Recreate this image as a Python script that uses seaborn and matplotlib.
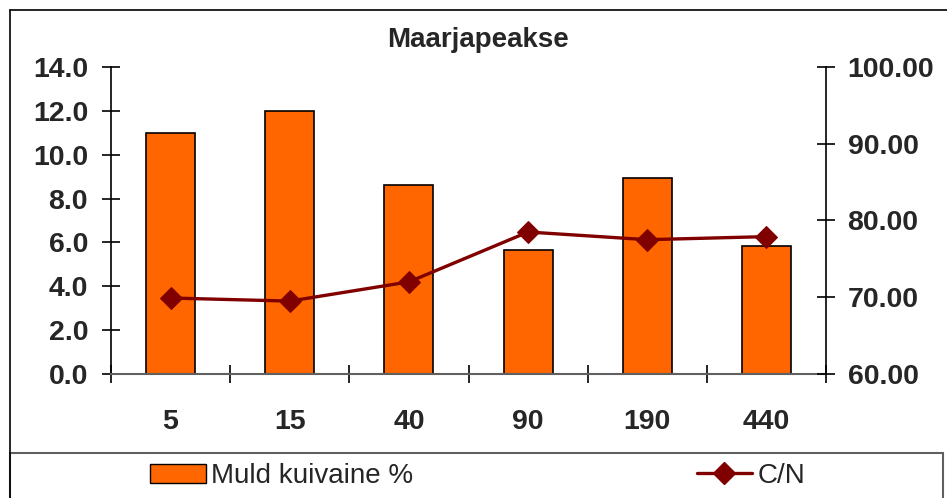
import numpy as np
import pandas as pd
import seaborn as sns
import matplotlib.pyplot as plt
from matplotlib.lines import Line2D
from matplotlib.patches import Patch, Rectangle

# Data
depths = ['5', '15', '40', '90', '190', '440']
muld_kuivaine = [11.0, 12.0, 8.6, 5.65, 8.95, 5.85]
cn_ratio = [69.9, 69.5, 72.0, 78.5, 77.5, 77.9]

df = pd.DataFrame({'depth': depths, 'muld': muld_kuivaine, 'cn': cn_ratio})

sns.set_theme(style='white')
plt.rcParams['font.family'] = ['Liberation Sans', 'DejaVu Sans']

bar_color = '#FF6600'
line_color = '#800000'

fig = plt.figure(figsize=(9.47, 4.98), dpi=100)
ax = fig.add_axes([111 / 947, 1 - 374 / 498, (826 - 111) / 947, (374 - 67) / 498])

# Bars on the left axis
sns.barplot(data=df, x='depth', y='muld', ax=ax, color=bar_color, saturation=1,
            width=0.41, edgecolor='black', linewidth=1.2)
ax.set_ylim(0, 14)
ax.set_xlim(-0.5, len(depths) - 0.5)
ax.set_yticks(np.arange(0, 14.1, 2))
ax.set_yticklabels([f'{v:.1f}' for v in np.arange(0, 14.1, 2)])
ax.set_xlabel('')
ax.set_ylabel('')

# C/N line on the right axis
ax2 = ax.twinx()
sns.lineplot(x=np.arange(len(depths)), y=df['cn'], ax=ax2, color=line_color,
             linewidth=2.4, marker='D', markersize=11, markeredgecolor=line_color)
ax2.set_ylim(60, 100)
ax2.set_yticks(np.arange(60, 100.1, 10))
ax2.set_yticklabels([f'{v:.2f}' for v in np.arange(60, 100.1, 10)])
ax2.set_ylabel('')
ax2.set_xlim(-0.5, len(depths) - 0.5)

# Spines
for a in (ax, ax2):
    for side in ('top', 'left', 'right', 'bottom'):
        a.spines[side].set_visible(False)
ax.spines['left'].set_visible(True)
ax.spines['left'].set_color('black')
ax.spines['left'].set_linewidth(1.2)
ax.spines['bottom'].set_visible(True)
ax.spines['bottom'].set_color('#606060')
ax.spines['bottom'].set_linewidth(1.5)
ax2.spines['right'].set_visible(True)
ax2.spines['right'].set_color('black')
ax2.spines['right'].set_linewidth(1.2)

# Ticks
tick_font = dict(fontsize=20, fontweight='bold')
ax.tick_params(axis='y', direction='inout', length=13, width=1.2, color='black', pad=10, left=True)
ax2.tick_params(axis='y', direction='inout', length=13, width=1.2, color='black', pad=9, right=True)
ax.tick_params(axis='x', which='major', length=0, pad=25)
ax.set_xticks(np.arange(-0.5, len(depths), 1), minor=True)
ax.tick_params(axis='x', which='minor', direction='inout', length=13, width=1.2, color='black', bottom=True)
for lbl in ax.get_yticklabels() + ax2.get_yticklabels() + ax.get_xticklabels():
    lbl.set_fontsize(20.5)
    lbl.set_fontweight('bold')

# Title
fig.text(478 / 947, 1 - 40 / 498, 'Maarjapeakse', ha='center', va='center', **tick_font)

# Chart border and legend box
fig.add_artist(Line2D([10 / 947, 10 / 947], [0, 1 - 10 / 498], color='black', lw=1.2,
                      transform=fig.transFigure))
fig.add_artist(Line2D([10 / 947, 1], [1 - 10 / 498, 1 - 10 / 498], color='black', lw=1.2,
                      transform=fig.transFigure))
fig.add_artist(Rectangle((10 / 947, -0.05), 933 / 947, 0.05 + (498 - 453) / 498,
                         transform=fig.transFigure, facecolor='white', edgecolor='#606060',
                         lw=1.5))

handles = [Patch(facecolor=bar_color, edgecolor='black', linewidth=1),
           Line2D([], [], color=line_color, lw=2.4, marker='D', markersize=11)]
fig.legend(handles, ['Muld kuivaine %', 'C/N'], ncol=2, loc='center left',
           bbox_to_anchor=(150 / 947, 1 - 476 / 498), frameon=False, fontsize=20,
           borderpad=0, borderaxespad=0, handlelength=2.0, handletextpad=0.2,
           columnspacing=10.2)

fig.savefig('out.png', dpi=100)
